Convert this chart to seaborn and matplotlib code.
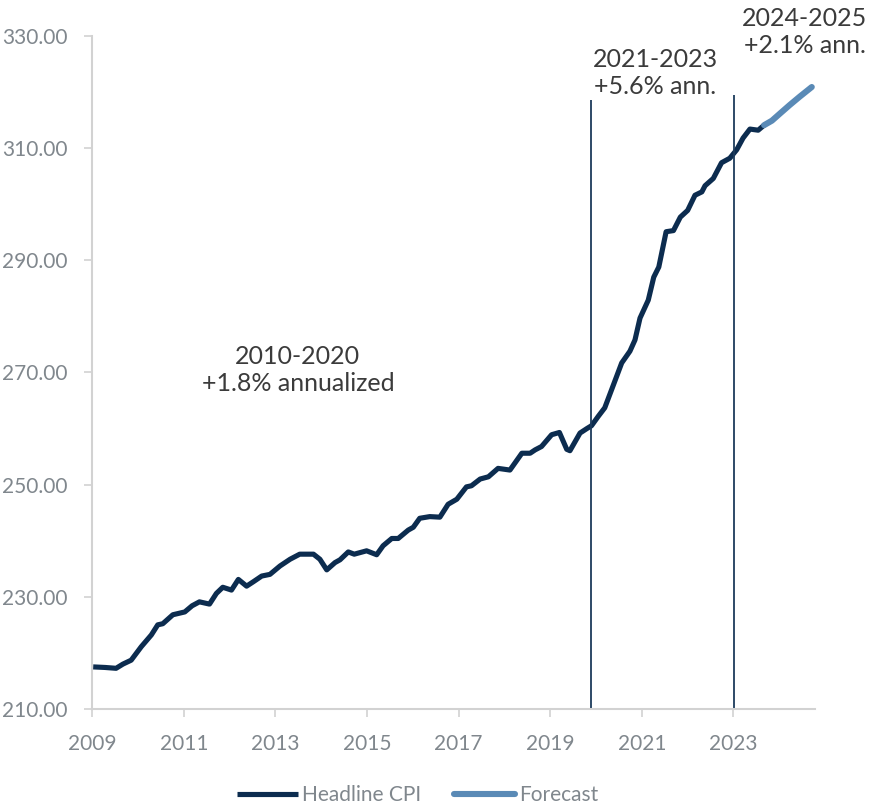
import numpy as np
import pandas as pd
import matplotlib
matplotlib.use("Agg")
import matplotlib.pyplot as plt
import seaborn as sns

# Headline CPI (decimal year, index level)
cpi_year = [2009.02, 2009.28, 2009.52, 2009.67, 2009.85, 2010.07, 2010.29, 2010.43,
            2010.54, 2010.76, 2011.02, 2011.18, 2011.34, 2011.56, 2011.71, 2011.85,
            2012.04, 2012.19, 2012.37, 2012.52, 2012.70, 2012.88, 2013.10, 2013.32,
            2013.53, 2013.83, 2013.97, 2014.12, 2014.30, 2014.41, 2014.59, 2014.72,
            2014.99, 2015.21, 2015.35, 2015.54, 2015.68, 2015.90, 2016.01, 2016.15,
            2016.37, 2016.59, 2016.77, 2016.96, 2017.17, 2017.28, 2017.47, 2017.65,
            2017.86, 2018.12, 2018.38, 2018.56, 2018.67, 2018.81, 2019.03, 2019.20,
            2019.36, 2019.43, 2019.65, 2019.80, 2019.90, 2020.05, 2020.19, 2020.38,
            2020.56, 2020.74, 2020.85, 2020.96, 2021.14, 2021.26, 2021.37, 2021.53,
            2021.69, 2021.84, 2022.00, 2022.16, 2022.31, 2022.38, 2022.56, 2022.74,
            2022.92, 2023.07, 2023.21, 2023.36, 2023.54, 2023.67]
cpi_value = [217.5, 217.4, 217.25, 218.0, 218.7, 221.1, 223.2, 225.0,
             225.2, 226.8, 227.3, 228.4, 229.1, 228.7, 230.6, 231.7,
             231.2, 233.1, 231.9, 232.7, 233.7, 234.0, 235.5, 236.7,
             237.6, 237.6, 236.7, 234.8, 236.1, 236.6, 238.0, 237.6,
             238.2, 237.5, 239.1, 240.4, 240.4, 241.9, 242.4, 244.0,
             244.3, 244.2, 246.5, 247.4, 249.6, 249.8, 251.0, 251.4,
             252.9, 252.6, 255.6, 255.6, 256.2, 256.8, 258.9, 259.3,
             256.3, 256.05, 259.2, 260.0, 260.5, 262.2, 263.7, 267.8,
             271.7, 273.8, 275.8, 279.7, 282.9, 287.0, 288.8, 295.1,
             295.3, 297.7, 298.9, 301.6, 302.2, 303.3, 304.6, 307.4,
             308.2, 309.7, 311.8, 313.4, 313.2, 314.1]

forecast_year = [2023.67, 2023.84, 2024.02, 2024.23, 2024.45, 2024.71]
forecast_value = [314.1, 314.9, 316.2, 317.7, 319.2, 320.9]

period_breaks = [2019.88, 2023.02]
break_tops = [318.6, 319.5]

x_ticks = [2009, 2011, 2013, 2015, 2017, 2019, 2021, 2023]
y_ticks = [210, 230, 250, 270, 290, 310, 330]

notes = [
    ("2010-2020\n+1.8% annualized", 2013.49, 270.4),
    ("2021-2023\n+5.6% ann.", 2021.29, 323.4),
    ("2024-2025\n+2.1% ann.", 2024.56, 330.7),
]

NAVY = "#0c2c4f"
STEEL = "#5a8ab6"
GREY_TXT = "#80878d"
SPINE = "#d2d2d2"

sns.set_theme(style="white")
plt.rcParams["font.family"] = ["Lato", "DejaVu Sans"]

df_hist = pd.DataFrame({"year": cpi_year, "cpi": cpi_value})
df_fc = pd.DataFrame({"year": forecast_year, "cpi": forecast_value})

fig = plt.figure(figsize=(8.72, 8.05), dpi=100)
ax = fig.add_axes([0.1058, 0.1193, 0.8288, 0.836])

sns.lineplot(data=df_hist, x="year", y="cpi", ax=ax, color=NAVY, linewidth=3.7,
             label="Headline CPI", solid_joinstyle="round", solid_capstyle="butt")
sns.lineplot(data=df_fc, x="year", y="cpi", ax=ax, color=STEEL, linewidth=4.4,
             label="Forecast", solid_capstyle="round", solid_joinstyle="round")

ax.vlines(period_breaks, 210, break_tops, color="#1d3b5c", linewidth=1.3)

for txt, x, y in notes:
    ax.text(x, y, txt, ha="center", va="center", fontsize=18, color="#3b3b3b",
            linespacing=1.2, clip_on=False)

ax.set_xlim(2009, 2024.78)
ax.set_ylim(210, 330)
ax.set_xticks(x_ticks)
ax.set_yticks(y_ticks)
ax.set_yticklabels([f"{v:.2f}" for v in y_ticks])
ax.set_xlabel("")
ax.set_ylabel("")

for side in ["top", "right"]:
    ax.spines[side].set_visible(False)
for side in ["left", "bottom"]:
    ax.spines[side].set_color(SPINE)
    ax.spines[side].set_linewidth(1.5)
ax.tick_params(axis="both", which="major", length=6, width=1.2, color=SPINE,
               labelsize=15, labelcolor=GREY_TXT, direction="out",
               left=True, bottom=True)
ax.tick_params(axis="y", pad=12)
ax.tick_params(axis="x", pad=12)

ax.get_legend().remove()
handles, labels = ax.get_legend_handles_labels()
fig.legend(handles, labels, loc="center", bbox_to_anchor=(0.479, 0.0124),
           ncol=2, frameon=False, fontsize=15, labelcolor=GREY_TXT,
           handlelength=2.9, handletextpad=0.2, columnspacing=1.6)

fig.savefig("out.png", dpi=100)
